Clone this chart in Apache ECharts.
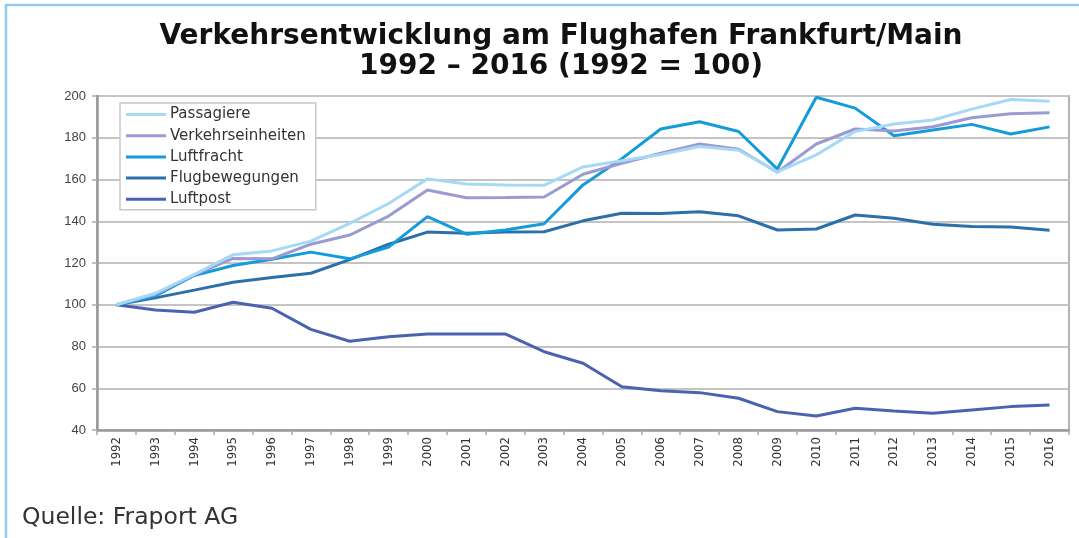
<!DOCTYPE html>
<html>
<head>
<meta charset="utf-8">
<script src="https://cdn.jsdelivr.net/npm/echarts@6/dist/echarts.min.js"></script>
<style>html,body{margin:0;padding:0;background:#fff;}#c{width:1079px;height:538px;}</style>
</head>
<body>
<div id="c"></div>
<script>
const years = ['1992','1993','1994','1995','1996','1997','1998','1999','2000','2001','2002','2003','2004','2005','2006','2007','2008','2009','2010','2011','2012','2013','2014','2015','2016'];
const yTicks = [40, 60, 80, 100, 120, 140, 160, 180, 200];
const passagiere = [100,105.5,114.5,124,125.8,130.5,139,148.5,160.3,157.8,157.4,157.2,166,169,172,175.8,174,163.7,171.8,183,186.6,188.5,193.7,198.3,197.5];
const verkehrseinheiten = [100,105,114.3,122.2,122,129,133.4,142.5,155,151.3,151.4,151.6,162.5,167.8,172.6,177,174.5,163.5,177,184.2,183.2,185.3,189.6,191.5,192];
const luftfracht = [100,104.2,114,118.8,121.8,125.2,122,127.6,142.2,133.8,135.8,138.8,157.4,170,184.2,187.7,183,165,199.4,194.2,181,183.7,186.4,181.8,185.2];
const flugbewegungen = [100,103.3,107,110.8,113,115.1,121.6,129,134.8,134.2,134.8,135,140.2,143.8,143.7,144.6,142.6,135.8,136.3,143,141.4,138.6,137.5,137.2,135.7];
const luftpost = [100,97.5,96.4,101.2,98.3,88.2,82.5,84.7,86,86,86,77.5,72,60.7,58.8,57.9,55.2,48.8,46.7,50.4,49.1,48,49.6,51.2,52];

const names = ['Passagiere','Verkehrseinheiten','Luftfracht','Flugbewegungen','Luftpost'];
const colors = ['#a6d9f6','#9b9bd2','#139cd9','#2b70aa','#4a63ae'];
const data = [passagiere, verkehrseinheiten, luftfracht, flugbewegungen, luftpost];

const chart = echarts.init(document.getElementById('c'));
chart.setOption({
  animation: false,
  backgroundColor: '#fff',
  color: colors,
  title: {
    text: 'Verkehrsentwicklung am Flughafen Frankfurt/Main\n1992 – 2016 (1992 = 100)',
    left: 556, top: 17, textAlign: 'center',
    textStyle: {fontFamily: 'DejaVu Sans', fontWeight: 'bold', fontSize: 28, lineHeight: 30, color: '#111'}
  },
  legend: {
    orient: 'vertical', left: 120, top: 103,
    data: names,
    icon: 'path://M0,0 L40,0 L40,3 L0,3 Z',
    itemWidth: 42, itemHeight: 3, itemGap: 6.2,
    padding: [4, 10, 3, 6],
    borderColor: '#c8c8c8', borderWidth: 1.5, backgroundColor: '#fff',
    textStyle: {fontFamily: 'DejaVu Sans', fontSize: 15, lineHeight: 14, color: '#333', padding: [0,0,0,-2]}
  },
  grid: {left: 97, right: 10, top: 96, bottom: 108, show: true, borderColor: '#b4b4b4', borderWidth: 2},
  xAxis: {
    type: 'category', data: years, boundaryGap: true,
    axisLine: {lineStyle: {color: '#999', width: 2.5}},
    axisTick: {show: true, interval: 0, length: 5, lineStyle: {color: '#aaa', width: 1.5}},
    axisLabel: {interval: 0, rotate: 90, margin: 7, fontFamily: 'DejaVu Sans Condensed, Liberation Sans', fontSize: 13, color: '#333'}
  },
  yAxis: {
    type: 'value', min: yTicks[0], max: yTicks[yTicks.length-1], interval: 20,
    axisLine: {show: true, lineStyle: {color: '#999', width: 2.5}},
    axisTick: {show: true, length: 5, lineStyle: {color: '#aaa', width: 1.5}},
    splitLine: {lineStyle: {color: '#c4c4c4', width: 2}},
    axisLabel: {margin: 11, fontFamily: 'Liberation Sans', fontSize: 13, color: '#444'}
  },
  graphic: [
    {type: 'line', shape: {x1: 5, y1: 5, x2: 1079, y2: 5}, style: {stroke: '#8fcbef', lineWidth: 2.5}},
    {type: 'line', shape: {x1: 6, y1: 5, x2: 6, y2: 538}, style: {stroke: '#8fcbef', lineWidth: 2.5}},
    {type: 'text', left: 22, top: 506, style: {text: 'Quelle: Fraport AG', font: '23.5px "DejaVu Sans"', fill: '#333'}}
  ],
  series: names.map((n, i) => ({
    name: n, type: 'line', data: data[i], symbol: 'none', z: 10 - i,
    lineStyle: {width: 3, color: colors[i]}
  }))
});
</script>
</body>
</html>
